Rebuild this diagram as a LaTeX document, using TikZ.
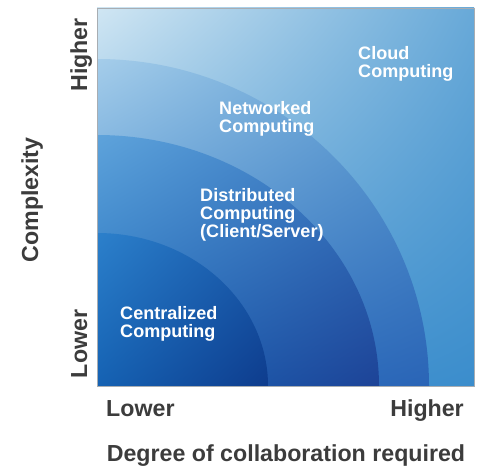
\documentclass[tikz,border=0pt]{standalone}
\usepackage{xcolor}
\usepackage{fontspec}
\setmainfont{Liberation Sans}
\usepackage{tikz}
\usetikzlibrary{shadings}
\definecolor{axisgray}{HTML}{3C3C3C}
\definecolor{framegray}{HTML}{A8ADB2}
% corner tones of each band
\definecolor{cloudUL}{HTML}{D0E6F3}
\definecolor{cloudUR}{HTML}{68A9D8}
\definecolor{cloudLL}{HTML}{4A98D2}
\definecolor{cloudLR}{HTML}{3B8DCC}
\definecolor{netUL}{HTML}{A5CDEA}
\definecolor{netUR}{HTML}{5A9CD2}
\definecolor{netLL}{HTML}{2E7CC6}
\definecolor{netLR}{HTML}{2A64B6}
\definecolor{distUL}{HTML}{5EA3DB}
\definecolor{distUR}{HTML}{3778C2}
\definecolor{distLL}{HTML}{1C6ABA}
\definecolor{distLR}{HTML}{1D4397}
\definecolor{centUL}{HTML}{2C80CB}
\definecolor{centUR}{HTML}{195BAC}
\definecolor{centLL}{HTML}{1562B3}
\definecolor{centLR}{HTML}{0E3C8D}

\begin{document}
\begin{tikzpicture}[x=0.03cm, y=0.03cm,
    band/.style={inner sep=0pt, anchor=west, align=left, text=white,
                 font=\fontsize{15.4}{15.6}\selectfont\bfseries},
    axislabel/.style={inner sep=0pt, text=axisgray,
                      font=\fontsize{19.8}{21}\selectfont\bfseries}]
    \useasboundingbox (0,0) rectangle (480,468);
    \coordinate (origin) at (97,82);
    \coordinate (corner) at (474,460);

    % outer field
    \shade[upper left=cloudUL, upper right=cloudUR, lower left=cloudLL, lower right=cloudLR]
        (origin) rectangle (corner);
    % nested quarter rings, drawn from the outside in
    \begin{scope}
      \clip (origin) -- ++(0,327) arc[start angle=90, end angle=0, x radius=332, y radius=327] -- cycle;
      \shade[upper left=netUL, upper right=netUR, lower left=netLL, lower right=netLR]
          (origin) rectangle ++(332,327);
    \end{scope}
    \begin{scope}
      \clip (origin) -- ++(0,251) arc[start angle=90, end angle=0, x radius=282, y radius=251] -- cycle;
      \shade[upper left=distUL, upper right=distUR, lower left=distLL, lower right=distLR]
          (origin) rectangle ++(282,251);
    \end{scope}
    \begin{scope}
      \clip (origin) -- ++(0,153) arc[start angle=90, end angle=0, x radius=171, y radius=153] -- cycle;
      \shade[upper left=centUL, upper right=centUR, lower left=centLL, lower right=centLR]
          (origin) rectangle ++(171,153);
    \end{scope}
    \draw[framegray, line width=0.8] (origin) rectangle (corner);

    \node[band] (cloud) at (358,404) {Cloud\\Computing};
    \node[band] (networked) at (219,349) {Networked\\Computing};
    \node[band] (distributed) at (200,253) {Distributed\\Computing\\(Client/Server)};
    \node[band] (centralized) at (120,144) {Centralized\\Computing};

    \node[axislabel, anchor=base west] (xlow) at (106,52) {Lower};
    \node[axislabel, anchor=base east] (xhigh) at (464,52) {Higher};
    \node[axislabel, anchor=base] (xtitle) at (286,7) {Degree of collaboration required};
    \node[axislabel, anchor=base, rotate=90] (ylow) at (87,124) {Lower};
    \node[axislabel, anchor=base, rotate=90] (yhigh) at (87,413) {Higher};
    \node[axislabel, anchor=base, rotate=90] (ytitle) at (38,268) {Complexity};
\end{tikzpicture}
\end{document}
